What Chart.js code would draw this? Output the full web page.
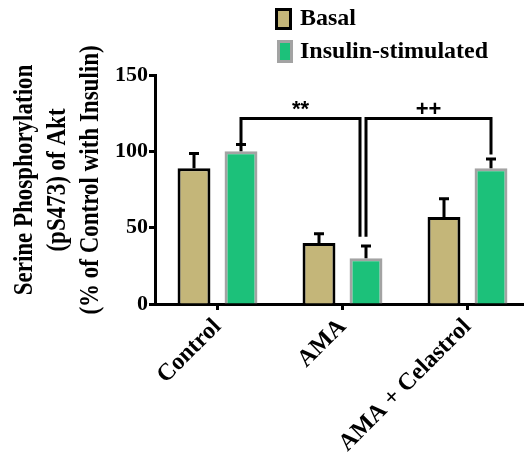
<!DOCTYPE html>
<html>
<head>
<meta charset="utf-8">
<title>Akt phosphorylation</title>
<script src="https://cdn.jsdelivr.net/npm/chart.js@4.4.1/dist/chart.umd.min.js"></script>
<style>
  html, body { margin: 0; padding: 0; background: #fff; overflow: hidden; }
  #wrap { position: relative; width: 532px; height: 459px; }
</style>
</head>
<body>
<div id="wrap"><canvas id="chart"></canvas></div>
<script>
// values (mean and upper error bar)
const categories = ["Control", "AMA", "AMA + Celastrol"];
const basalValues = [89, 40, 57];
const basalErrors = [9.5, 6, 12];
const insulinValues = [100, 30, 89];
const insulinErrors = [4.5, 8, 6];
const yTicks = [0, 50, 100, 150];
const yTitleLines = ["Serine Phosphorylation", "(pS473) of Akt", "(% of Control with Insulin)"];
// significance brackets between insulin-stimulated bars (category index, y value of bracket and leg ends)
const brackets = [
  { label: "**", from: 0, to: 1, level: 121.5, ends: [105, 44] },
  { label: "++", from: 1, to: 2, level: 121.5, ends: [44, 98] }
];

const serif = "'Liberation Serif', 'Times New Roman', serif";
const sans = "'Liberation Sans', Arial, sans-serif";

const errorBars = {
  id: "errorBars",
  afterDatasetsDraw(chart) {
    const ctx = chart.ctx, y = chart.scales.y;
    ctx.save();
    ctx.strokeStyle = "#000";
    ctx.lineWidth = 3;
    chart.data.datasets.forEach((ds, di) => {
      chart.getDatasetMeta(di).data.forEach((bar, i) => {
        const top = y.getPixelForValue(ds.data[i] + ds.errors[i]);
        ctx.beginPath();
        ctx.moveTo(bar.x, bar.y);
        ctx.lineTo(bar.x, top);
        ctx.moveTo(bar.x - 5, top);
        ctx.lineTo(bar.x + 5, top);
        ctx.stroke();
      });
    });
    ctx.restore();
  }
};

const sigBrackets = {
  id: "sigBrackets",
  afterDatasetsDraw(chart) {
    const ctx = chart.ctx, y = chart.scales.y;
    const bars = chart.getDatasetMeta(1).data;
    ctx.save();
    ctx.strokeStyle = "#000";
    ctx.fillStyle = "#000";
    ctx.lineWidth = 3;
    ctx.font = "bold 22px " + sans;
    ctx.textAlign = "center";
    ctx.textBaseline = "alphabetic";
    brackets.forEach((b, k) => {
      const next = brackets[k + 1];
      const x1 = bars[b.from].x;
      const x2 = bars[b.to].x - (next && next.from === b.to ? 6 : 0);
      const yl = y.getPixelForValue(b.level);
      ctx.beginPath();
      ctx.moveTo(x1, y.getPixelForValue(b.ends[0]));
      ctx.lineTo(x1, yl);
      ctx.lineTo(x2, yl);
      ctx.lineTo(x2, y.getPixelForValue(b.ends[1]));
      ctx.stroke();
      ctx.fillText(b.label, (x1 + x2) / 2, yl - 3);
    });
    ctx.restore();
  }
};

const sideText = {
  id: "sideText",
  afterDraw(chart) {
    const ctx = chart.ctx;
    ctx.save();
    ctx.fillStyle = "#000";
    // y axis title, three rotated lines
    ctx.font = "bold 23px " + serif;
    ctx.textAlign = "center";
    ctx.textBaseline = "middle";
    yTitleLines.forEach((line, i) => {
      ctx.save();
      ctx.translate(25 + i * 33, 180);
      ctx.rotate(-Math.PI / 2);
      ctx.scale(1, 1.22);
      ctx.fillText(line, 0, 0);
      ctx.restore();
    });
    // legend
    const boxes = [[276.5, 9.5, 14, 19], [278.5, 41.5, 13, 20]];
    const rows = [19, 52];
    ctx.font = "bold 24px " + serif;
    ctx.textAlign = "left";
    ctx.lineWidth = 3;
    chart.data.datasets.forEach((ds, i) => {
      const [bx, by, bw, bh] = boxes[i];
      ctx.fillStyle = ds.backgroundColor;
      ctx.fillRect(bx, by, bw, bh);
      ctx.strokeStyle = ds.borderColor;
      ctx.strokeRect(bx, by, bw, bh);
      ctx.fillStyle = "#000";
      ctx.fillText(ds.label, 300, rows[i]);
    });
    ctx.restore();
  }
};

new Chart(document.getElementById("chart"), {
  type: "bar",
  data: {
    labels: categories,
    datasets: [
      {
        label: "Basal",
        data: basalValues,
        errors: basalErrors,
        backgroundColor: "#c4b679",
        borderColor: "#000000",
        borderWidth: 3,
        borderSkipped: "bottom"
      },
      {
        label: "Insulin-stimulated",
        data: insulinValues,
        errors: insulinErrors,
        backgroundColor: "#1cc17a",
        borderColor: "#a3a3a3",
        borderWidth: 3,
        borderSkipped: "bottom"
      }
    ]
  },
  options: {
    responsive: true,
    maintainAspectRatio: false,
    animation: false,
    layout: { padding: { top: 75, right: 2, bottom: 0, left: 0 } },
    datasets: { bar: { categoryPercentage: 0.752, barPercentage: 0.70 } },
    plugins: {
      legend: { display: false },
      tooltip: { enabled: false }
    },
    scales: {
      x: {
        offset: true,
        grid: { offset: false, drawOnChartArea: false, drawTicks: true, tickLength: 6, tickWidth: 3, tickColor: "#000" },
        border: { color: "#000", width: 3 },
        ticks: {
          autoSkip: false,
          minRotation: 45,
          maxRotation: 45,
          padding: 3,
          color: "#000",
          font: { family: serif, size: 24, weight: "bold" }
        },
        afterFit(scale) { scale.height = 155; }
      },
      y: {
        min: 0,
        max: 150,
        afterBuildTicks(scale) { scale.ticks = yTicks.map(v => ({ value: v })); },
        grid: { drawOnChartArea: false, drawTicks: true, tickLength: 6, tickWidth: 3, tickColor: "#000" },
        border: { color: "#000", width: 3 },
        ticks: {
          padding: 1,
          color: "#000",
          font: { family: serif, size: 22, weight: "bold" }
        },
        afterFit(scale) { scale.width = 155; }
      }
    }
  },
  plugins: [errorBars, sigBrackets, sideText]
});
</script>
</body>
</html>
